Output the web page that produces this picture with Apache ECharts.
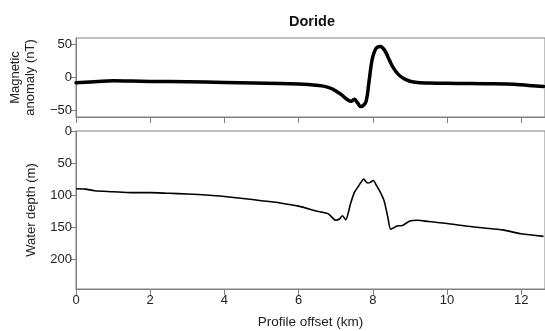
<!DOCTYPE html>
<html>
<head>
<meta charset="utf-8">
<script src="https://cdn.jsdelivr.net/npm/echarts@6/dist/echarts.min.js"></script>
<style>
  html, body {margin: 0; padding: 0; background: #fff;}
  #chart {width: 545px; height: 331px;}
</style>
</head>
<body>
<div id="chart"></div>
<script>
// magnetic anomaly profile (km, nT)
const magOffset = [0, 0.5, 1, 1.5, 2, 3, 4, 4.8, 5.5, 6, 6.4, 6.8, 7.1, 7.3, 7.42, 7.5, 7.58, 7.68, 7.75, 7.82, 7.9, 7.98, 8.05, 8.12, 8.2, 8.28, 8.36, 8.45, 8.55, 8.7, 8.85, 9.1, 9.5, 10.3, 11, 11.6, 12.2, 12.6];
const magValue = [-8, -6.5, -5, -5.5, -6, -6.5, -7.5, -8.5, -9, -10, -11.5, -15, -24, -33, -36, -33, -38, -44, -42, -36, -5, 27, 40, 46, 47, 44, 37, 26, 15, 4, -2, -7, -8.5, -9, -9.5, -10, -12, -13.5];

// water depth profile (km, m)
const depthOffset = [0, 0.25, 0.5, 1, 1.5, 2, 2.5, 3, 3.6, 4, 4.5, 5, 5.5, 6, 6.5, 6.8, 7.0, 7.1, 7.18, 7.27, 7.4, 7.5, 7.6, 7.68, 7.75, 7.86, 7.93, 8.01, 8.1, 8.2, 8.3, 8.4, 8.48, 8.55, 8.65, 8.8, 9.0, 9.2, 9.5, 10, 10.5, 11, 11.5, 12, 12.6];
const depthValue = [90, 90.5, 93, 94.5, 96, 96, 97, 98, 100, 102, 105, 108.5, 112, 117, 125, 129, 139, 137, 132, 138, 113, 96, 87, 80, 75, 81, 80, 77, 85, 95, 108, 133, 153, 151, 148, 147, 140, 139, 141, 144, 148, 151, 154, 160, 164];

const magTicks = [-50, 0, 50];

const font = 'Liberation Sans, Arial, sans-serif';
const axisGray = '#808080';
const textColor = '#222';

const chart = echarts.init(document.getElementById('chart'), null, {renderer: 'canvas'});

const frame = {show: true, borderColor: axisGray, borderWidth: 1, backgroundColor: 'transparent'};

chart.setOption({
  animation: false,
  textStyle: {fontFamily: font},
  title: {
    text: 'Doride',
    left: 312,
    top: 14,
    padding: 0,
    textAlign: 'center',
    textStyle: {fontSize: 14.5, fontWeight: 'bold', color: '#111', fontFamily: font},
  },
  grid: [
    {left: 76, right: -1, top: 38, height: 79, ...frame},
    {left: 76, right: -1, top: 131, height: 158, ...frame},
  ],
  xAxis: [
    {
      gridIndex: 0, type: 'value', min: 0, max: 12.64, interval: 2,
      axisLine: {show: true, onZero: false, lineStyle: {color: axisGray}},
      axisTick: {show: true, inside: false, length: 6, lineStyle: {color: axisGray}},
      axisLabel: {show: false},
      splitLine: {show: false},
    },
    {
      gridIndex: 1, type: 'value', min: 0, max: 12.64, interval: 2,
      name: 'Profile offset (km)', nameLocation: 'middle', nameGap: 26,
      nameTextStyle: {fontSize: 13.5, color: textColor, fontFamily: font},
      axisLine: {show: true, onZero: false, lineStyle: {color: axisGray}},
      axisTick: {show: true, inside: false, length: 6, lineStyle: {color: axisGray}},
      axisLabel: {fontSize: 13, color: textColor, margin: 5, showMaxLabel: false},
      splitLine: {show: false},
    },
  ],
  yAxis: [
    {
      gridIndex: 0, type: 'value', min: -60, max: 60,
      name: 'Magnetic\nanomaly (nT)', nameLocation: 'middle', nameGap: 38, nameRotate: 90,
      nameTextStyle: {fontSize: 13, color: textColor, lineHeight: 15, fontFamily: font},
      axisLine: {show: true, lineStyle: {color: axisGray}},
      axisTick: {show: true, length: 5, customValues: magTicks, lineStyle: {color: axisGray}},
      axisLabel: {
        fontSize: 13, color: textColor, margin: 4, customValues: magTicks,
        formatter: v => (v < 0 ? '\u2212' + Math.abs(v) : String(v)),
      },
      splitLine: {show: false},
    },
    {
      gridIndex: 1, type: 'value', min: 0, max: 246, interval: 50, inverse: true,
      name: 'Water depth (m)', nameLocation: 'middle', nameGap: 38, nameRotate: 90,
      nameTextStyle: {fontSize: 13, color: textColor, fontFamily: font},
      axisLine: {show: true, lineStyle: {color: axisGray}},
      axisTick: {show: true, length: 5, lineStyle: {color: axisGray}},
      axisLabel: {fontSize: 13, color: textColor, margin: 4, showMaxLabel: false},
      splitLine: {show: false},
    },
  ],
  series: [
    {
      type: 'line', xAxisIndex: 0, yAxisIndex: 0,
      data: magOffset.map((x, i) => [x, magValue[i]]),
      showSymbol: false, smooth: 0.5,
      lineStyle: {color: '#000', width: 3.5, join: 'round', cap: 'round'},
    },
    {
      type: 'line', xAxisIndex: 1, yAxisIndex: 1,
      data: depthOffset.map((x, i) => [x, depthValue[i]]),
      showSymbol: false, smooth: 0.25,
      lineStyle: {color: '#000', width: 1.6, join: 'round'},
    },
  ],
});
</script>
</body>
</html>
